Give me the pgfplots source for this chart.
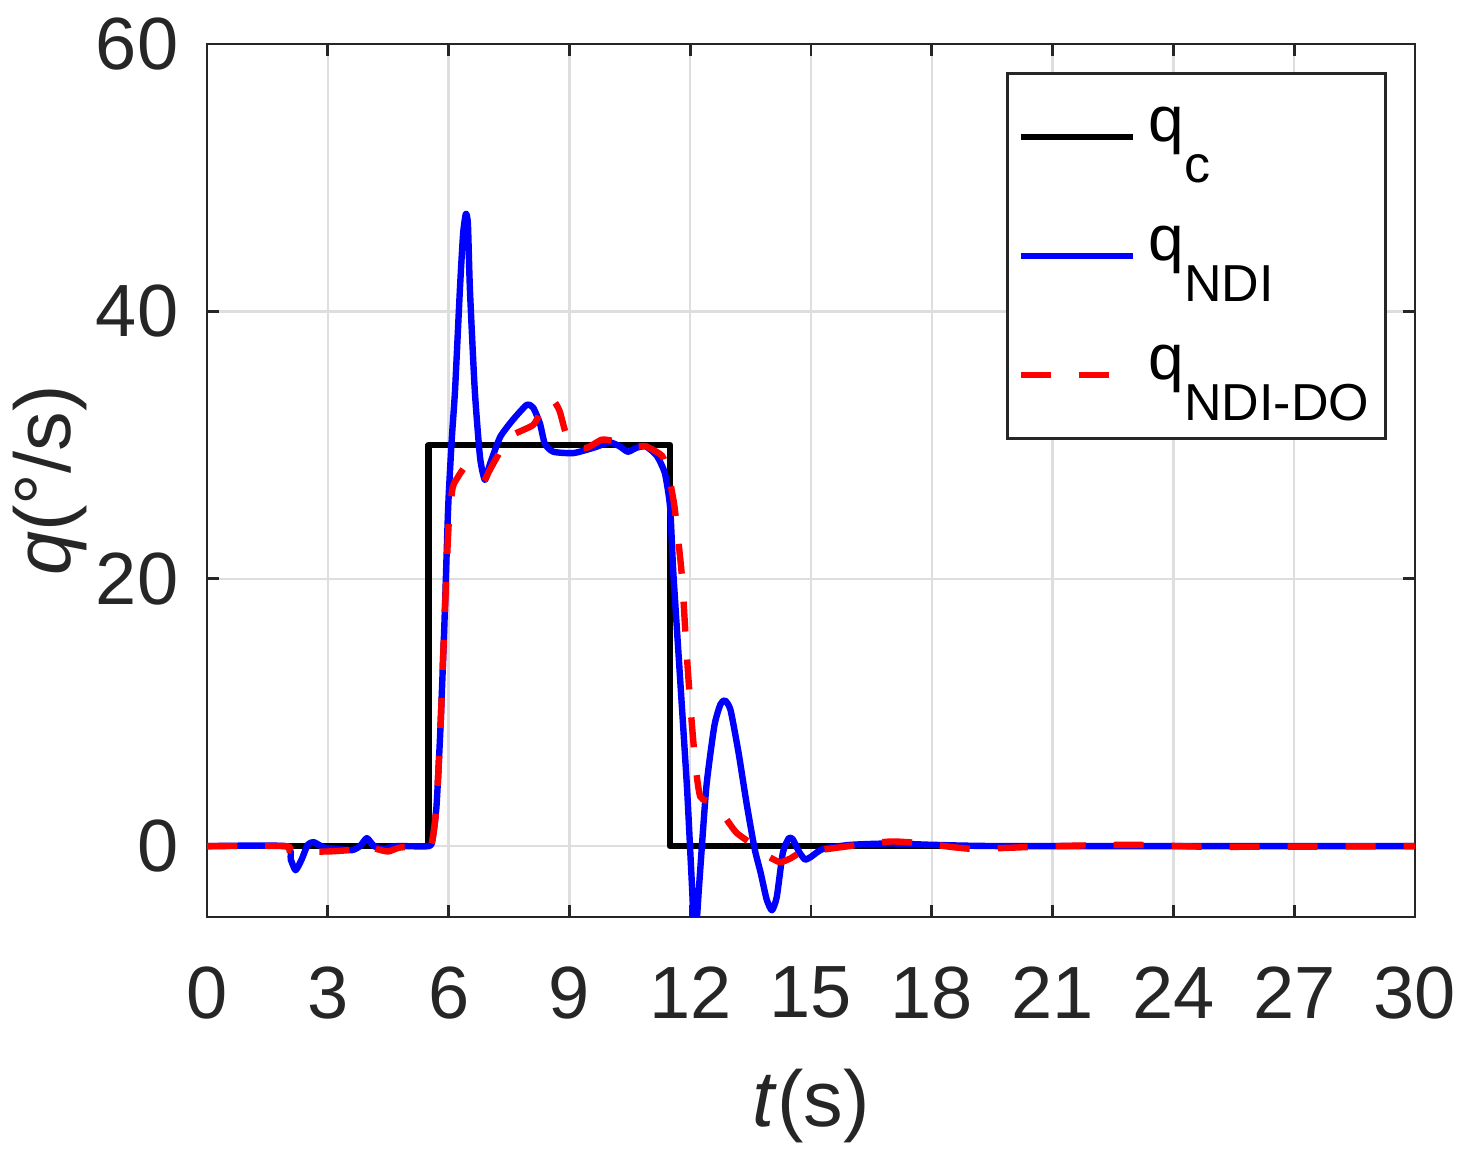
\documentclass[border=0pt]{standalone}
\usepackage{pgfplots}
\pgfplotsset{compat=1.18}
\usepackage{fontspec}
\setmainfont{Liberation Sans}
\definecolor{axgray}{rgb}{0.15,0.15,0.15}
\definecolor{gridgray}{rgb}{0.87,0.87,0.87}
\begin{document}
\begin{tikzpicture}
\useasboundingbox (0,0) rectangle (366.25pt,288.5pt);
\begin{axis}[
  at={(51.75pt,59.25pt)}, anchor=south west,
  scale only axis, width=302pt, height=218.25pt,
  xmin=0, xmax=30, ymin=-5.3, ymax=60,
  xtick={0,3,...,30}, ytick={0,20,40,60},
  grid=major, major grid style={gridgray, line width=0.6pt},
  tick align=inside, major tick length=3pt,
  axis line style={axgray, line width=0.7pt},
  every tick/.style={axgray, line width=0.7pt},
  /pgf/number format/assume math mode=true,
  tick label style={font=\fontsize{18.5}{21}\selectfont, text=axgray},
  xticklabel style={inner sep=0pt, anchor=north, yshift=-12.25pt},
  yticklabel style={inner sep=0pt, anchor=east, xshift=-7pt},
  xlabel={\textit{t}(s)}, ylabel={\textit{q}(°/s)},
  label style={font=\fontsize{19.8}{22}\selectfont, text=axgray},
  xlabel style={at={(axis description cs:0.5,-0.2405)}, anchor=base},
  ylabel style={at={(axis description cs:-0.1134,0.5)}, anchor=base},
  legend image code/.code={\draw[#1] (0pt,0pt) -- (28pt,0pt);},
  legend style={at={(axis description cs:0.977,0.968)}, anchor=north east,
    draw=axgray, line width=0.7pt, fill=white,
    inner xsep=2.5pt, inner ysep=3.6pt, column sep=3.25pt, row sep=5.25pt,
    font=\fontsize{16}{18}\selectfont,
    nodes={inner sep=0pt, text height=13.5pt, text depth=11pt, text width=56.75pt, anchor=west, text=black}},
  legend cell align=left,
]
\addplot[black, line width=1.6pt, line join=round] coordinates {
(0,0) (5.5,0) (5.5,30) (11.5,30) (11.5,0) (30,0)};
\addlegendentry{q\raisebox{-10.25pt}{\fontsize{13}{15}\selectfont c}}

\addplot[blue, line width=1.6pt, line join=round, smooth, tension=0.35] coordinates {
(0,0) (1.95,0) (2.08,-1.0) (2.2,-1.8) (2.35,-1.0) (2.5,0.1) (2.65,0.3)
(2.9,-0.1) (3.2,-0.2) (3.6,-0.3) (3.8,0.0) (3.97,0.6) (4.15,0.0) (4.4,-0.2)
(4.7,0.0) (5.5,0.0) (5.6,0.5) (5.7,3) (5.8,9) (5.9,17) (5.99,25.4) (6.08,30.5)
(6.16,34.1) (6.28,41.6) (6.36,45.8) (6.43,47.3) (6.48,46.5) (6.53,41.6)
(6.65,34.1) (6.78,29.1) (6.9,27.4) (7.03,28.6) (7.28,30.6) (7.6,31.9)
(7.94,33.0) (8.1,32.8) (8.27,31.6) (8.39,30.1) (8.6,29.5) (9.1,29.4)
(9.6,29.8) (10.0,30.2) (10.25,29.9) (10.45,29.5) (10.67,29.8) (10.9,29.9)
(11.17,29.2) (11.37,27.9) (11.5,25.4) (11.58,20.5) (11.75,12.5) (11.92,4.4)
(12.02,-1.5) (12.12,-7) (12.22,-3) (12.4,4.4) (12.6,9) (12.75,10.6) (12.86,10.9)
(13.0,10.2) (13.2,7) (13.4,3.2) (13.6,-0.2) (13.75,-2) (13.9,-4) (14.03,-4.8)
(14.15,-3.8) (14.3,-0.5) (14.45,0.6) (14.55,0.5) (14.7,-0.4) (14.85,-1.0)
(15.0,-0.8) (15.3,-0.2) (16,0.1) (17,0.2) (18,0.1) (20,0) (30,0)};
\addlegendentry{q\raisebox{-10.25pt}{\fontsize{13}{15}\selectfont NDI}}

\addplot[red, line width=1.6pt, dash pattern=on 7.5pt off 7pt, smooth, tension=0.35] coordinates {
(0,0) (1.95,0) (2.05,-0.3) (2.3,-0.4) (3.0,-0.4) (3.5,-0.3) (3.8,-0.1)
(3.97,0.1) (4.2,-0.2) (4.5,-0.4) (4.8,-0.1) (5.5,0) (5.6,0.5) (5.7,3) (5.8,9)
(5.9,17) (6.0,24) (6.1,26.8) (6.23,27.6) (6.4,28.3) (6.6,27.8) (6.85,27.2)
(7.0,28) (7.2,29.1) (7.5,30.6) (8.1,31.5) (8.3,32.6) (8.55,33.5) (8.75,32.6)
(8.9,31.0) (9.1,29.9) (9.44,29.8) (9.8,30.4) (10.1,30.3) (10.6,29.9)
(10.9,29.9) (11.3,29.2) (11.45,28) (11.6,25.6) (11.7,23) (11.8,20)
(11.9,15) (12.0,10.7) (12.12,6.4) (12.25,3.7) (12.57,3.2) (12.9,2)
(13.15,1.0) (13.56,0.1) (13.9,-0.7) (14.23,-1.2) (14.5,-0.9) (14.73,-0.5)
(15.2,-0.3) (16.2,0.1) (17.0,0.35) (17.8,0.2) (19,-0.2) (21,0.0) (23,0.1)
(25,-0.05) (30,0)};
\addlegendentry{q\raisebox{-10.25pt}{\fontsize{13}{15}\selectfont NDI-DO}}
\end{axis}
\end{tikzpicture}
\end{document}
